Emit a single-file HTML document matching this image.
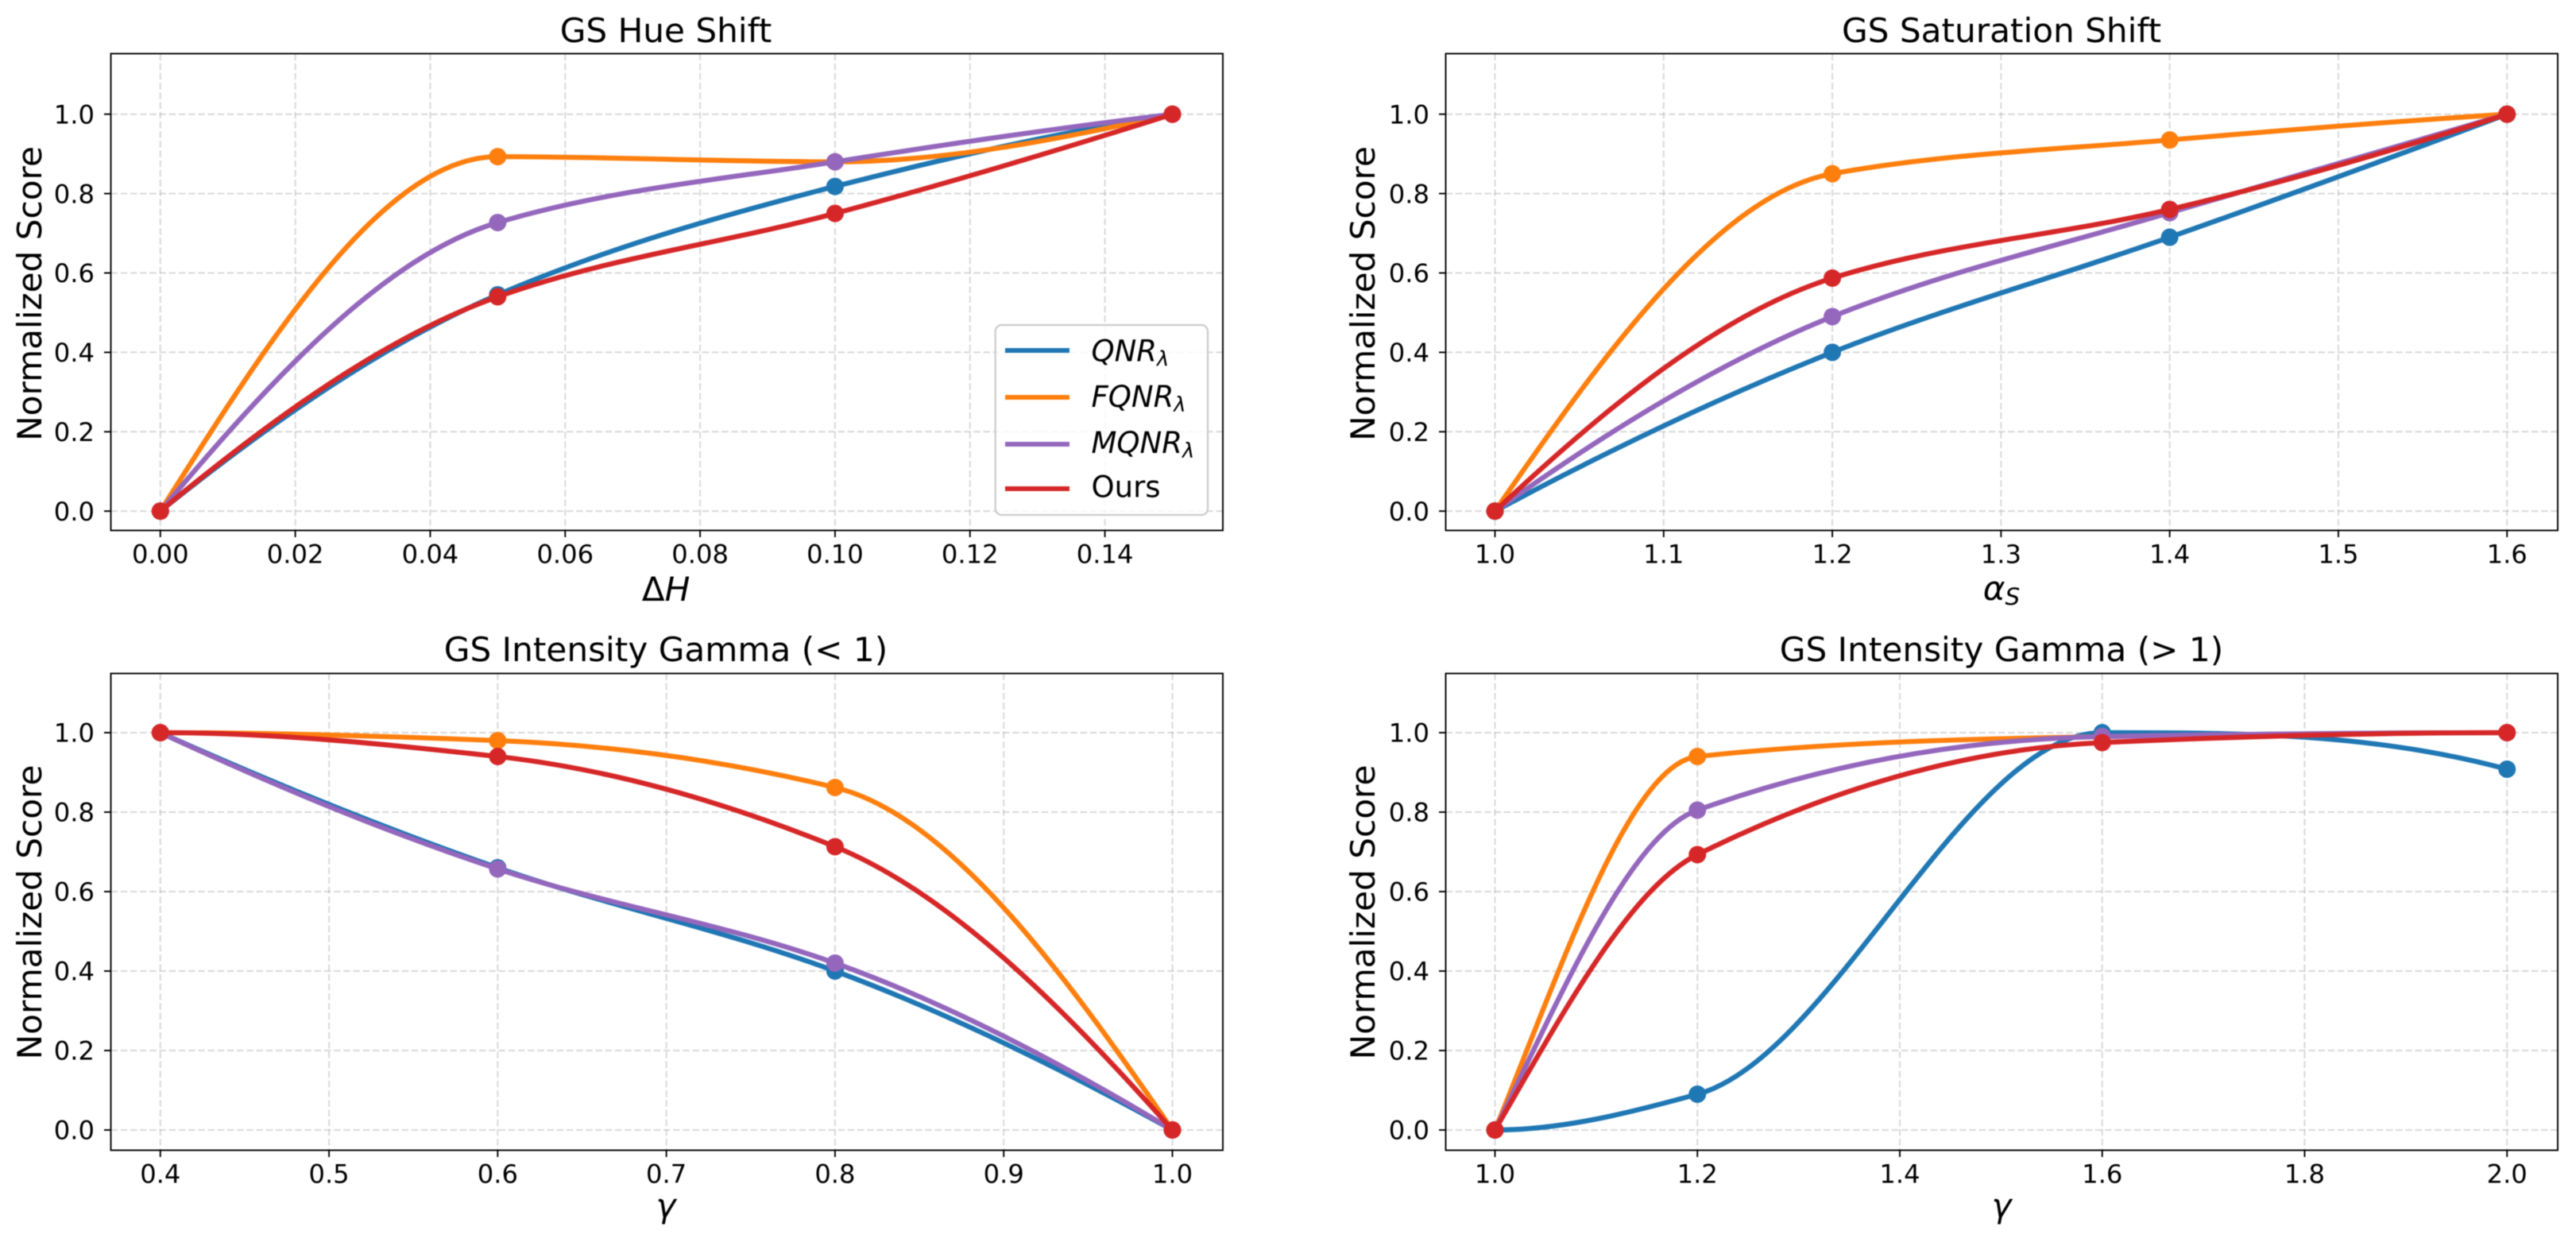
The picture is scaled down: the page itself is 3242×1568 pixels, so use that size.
<!DOCTYPE html>
<html lang="en">
<head>
<meta charset="utf-8">
<title>GS Normalized Score Curves</title>
<style>
html,body{margin:0;padding:0;background:#fff;}
svg{display:block;filter:blur(0.6px);}
text{font-family:"DejaVu Sans","Liberation Sans",sans-serif;fill:#000;}
.tick{font-size:32.2px;}
.big{font-size:42.2px;}
.leg{font-size:37px;}
.it{font-style:italic;}
</style>
</head>
<body>
<svg id="figure" xmlns="http://www.w3.org/2000/svg" width="3242" height="1568" viewBox="0 0 3242 1568">
  <rect x="0" y="0" width="3242" height="1568" fill="#ffffff"/>

  <g id="panel-hue"></g>
  <g id="panel-sat"></g>
  <g id="panel-low"></g>
  <g id="panel-high"></g>

  <text class="big" x="838" y="53" text-anchor="middle">GS Hue Shift</text>
  <text class="big" x="2519" y="53" text-anchor="middle">GS Saturation Shift</text>
  <text class="big" x="838" y="832" text-anchor="middle">GS Intensity Gamma (&lt; 1)</text>
  <text class="big" x="2519" y="832" text-anchor="middle">GS Intensity Gamma (&gt; 1)</text>

  <text class="big" text-anchor="middle" transform="translate(52 369.5) rotate(-90)">Normalized Score</text>
  <text class="big" text-anchor="middle" transform="translate(1730 369.5) rotate(-90)">Normalized Score</text>
  <text class="big" text-anchor="middle" transform="translate(52 1148) rotate(-90)">Normalized Score</text>
  <text class="big" text-anchor="middle" transform="translate(1730 1148) rotate(-90)">Normalized Score</text>

  <text class="big" x="838" y="756" text-anchor="middle">Δ<tspan class="it">H</tspan></text>
  <text class="big" x="2519" y="755" text-anchor="middle"><tspan class="it">α</tspan><tspan class="it" font-size="29.5" dy="6">S</tspan></text>
  <text class="big it" x="838" y="1532" text-anchor="middle">γ</text>
  <text class="big it" x="2519" y="1532" text-anchor="middle">γ</text>

  <g>
    <rect x="1252.7" y="409" width="267.3" height="239" rx="8" ry="8" fill="#ffffff" fill-opacity="0.8" stroke="#cccccc" stroke-width="2.3"/>
    <g>
      <line x1="1265" x2="1346" y1="441" y2="441" stroke="#1f77b4" stroke-width="6"/>
      <text class="leg it" x="1373.5" y="454.5">QNR<tspan font-size="25.9" dy="5.5">λ</tspan></text>
    </g>
    <g>
      <line x1="1265" x2="1346" y1="500" y2="500" stroke="#ff7f0e" stroke-width="6"/>
      <text class="leg it" x="1373.5" y="512">FQNR<tspan font-size="25.9" dy="5.5">λ</tspan></text>
    </g>
    <g>
      <line x1="1265" x2="1346" y1="559" y2="559" stroke="#9467bd" stroke-width="6"/>
      <text class="leg it" x="1373.5" y="570">MQNR<tspan font-size="25.9" dy="5.5">λ</tspan></text>
    </g>
    <g>
      <line x1="1265" x2="1346" y1="615" y2="615" stroke="#d62728" stroke-width="6"/>
      <text class="leg" x="1373.5" y="625.5">Ours</text>
    </g>
  </g>
</svg>

<script>
// Y ticks shared by all panels
const yTickLabels = ['0.0', '0.2', '0.4', '0.6', '0.8', '1.0'];

// Series drawing order and legend colours
const seriesNames = ['qnr', 'fqnr', 'mqnr', 'ours'];
const seriesColors = ['#1f77b4', '#ff7f0e', '#9467bd', '#d62728'];

// GS Hue Shift
const hueX = [0, 0.05, 0.10, 0.15];
const hueQnr = [0, 0.545, 0.818, 1];
const hueFqnr = [0, 0.893, 0.88, 1];
const hueMqnr = [0, 0.727, 0.88, 1];
const hueOurs = [0, 0.54, 0.75, 1];
const hueXTickLabels = ['0.00', '0.02', '0.04', '0.06', '0.08', '0.10', '0.12', '0.14'];

// GS Saturation Shift
const satX = [1.0, 1.2, 1.4, 1.6];
const satQnr = [0, 0.40, 0.69, 1];
const satFqnr = [0, 0.85, 0.935, 1];
const satMqnr = [0, 0.49, 0.752, 1];
const satOurs = [0, 0.587, 0.76, 1];
const satXTickLabels = ['1.0', '1.1', '1.2', '1.3', '1.4', '1.5', '1.6'];

// GS Intensity Gamma (< 1)
const lowX = [0.4, 0.6, 0.8, 1.0];
const lowQnr = [1, 0.66, 0.40, 0];
const lowFqnr = [1, 0.98, 0.862, 0];
const lowMqnr = [1, 0.657, 0.42, 0];
const lowOurs = [1, 0.94, 0.713, 0];
const lowXTickLabels = ['0.4', '0.5', '0.6', '0.7', '0.8', '0.9', '1.0'];

// GS Intensity Gamma (> 1)
const highX = [1.0, 1.2, 1.6, 2.0];
const highQnr = [0, 0.09, 1, 0.908];
const highFqnr = [0, 0.94, 0.99, 1];
const highMqnr = [0, 0.805, 0.99, 1];
const highOurs = [0, 0.693, 0.975, 1];
const highXTickLabels = ['1.0', '1.2', '1.4', '1.6', '1.8', '2.0'];

const SVG_NS = 'http://www.w3.org/2000/svg';

// Shape-preserving cubic (PCHIP) slopes
function edgeSlope(h0, h1, d0, d1) {
  let m = ((2 * h0 + h1) * d0 - h0 * d1) / (h0 + h1);
  if (Math.sign(m) !== Math.sign(d0)) m = 0;
  else if (Math.sign(d0) !== Math.sign(d1) && Math.abs(m) > 3 * Math.abs(d0)) m = 3 * d0;
  return m;
}
function pchipSlopes(xs, ys) {
  const n = xs.length, h = [], d = [], m = new Array(n).fill(0);
  for (let i = 0; i < n - 1; i++) {
    h.push(xs[i + 1] - xs[i]);
    d.push((ys[i + 1] - ys[i]) / h[i]);
  }
  for (let i = 1; i < n - 1; i++) {
    if (d[i - 1] * d[i] > 0) {
      const w1 = 2 * h[i] + h[i - 1], w2 = h[i] + 2 * h[i - 1];
      m[i] = (w1 + w2) / (w1 / d[i - 1] + w2 / d[i]);
    }
  }
  m[0] = edgeSlope(h[0], h[1], d[0], d[1]);
  m[n - 1] = edgeSlope(h[n - 2], h[n - 3], d[n - 2], d[n - 3]);
  return m;
}

function drawPanel(panelId, prefix, left, right, top, bottom, xScale, yScale, xs, seriesList, xTickLabels) {
  const panel = document.getElementById(panelId);

  const plotBg = document.createElementNS(SVG_NS, 'rect');
  
  
  plotBg.setAttribute('x', left);
  plotBg.setAttribute('y', top);
  plotBg.setAttribute('width', right - left);
  plotBg.setAttribute('height', bottom - top);
  plotBg.setAttribute('fill', '#ffffff');
  panel.appendChild(plotBg);

  const gridStyle = function (line) {
    line.setAttribute('stroke', '#b0b0b0');
    line.setAttribute('stroke-opacity', '0.48');
    line.setAttribute('stroke-width', '2');
    line.setAttribute('stroke-dasharray', '8.5 3.7');
  };
  const tickStyle = function (line) {
    line.setAttribute('stroke', '#000000');
    line.setAttribute('stroke-width', '1.9');
  };

  xTickLabels.forEach(function (label) {
    const px = xScale(Number(label));

    const grid = document.createElementNS(SVG_NS, 'line');
    
    
    grid.setAttribute('x1', px);
    grid.setAttribute('x2', px);
    grid.setAttribute('y1', top);
    grid.setAttribute('y2', bottom);
    gridStyle(grid);
    panel.appendChild(grid);

    const tick = document.createElementNS(SVG_NS, 'line');
    
    
    tick.setAttribute('x1', px);
    tick.setAttribute('x2', px);
    tick.setAttribute('y1', bottom);
    tick.setAttribute('y2', bottom + 8.5);
    tickStyle(tick);
    panel.appendChild(tick);

    const text = document.createElementNS(SVG_NS, 'text');
    
    
    text.setAttribute('class', 'tick');
    text.setAttribute('x', px);
    text.setAttribute('y', bottom + 41);
    text.setAttribute('text-anchor', 'middle');
    text.textContent = label;
    panel.appendChild(text);
  });

  yTickLabels.forEach(function (label) {
    const py = yScale(Number(label));

    const grid = document.createElementNS(SVG_NS, 'line');
    
    
    grid.setAttribute('x1', left);
    grid.setAttribute('x2', right);
    grid.setAttribute('y1', py);
    grid.setAttribute('y2', py);
    gridStyle(grid);
    panel.appendChild(grid);

    const tick = document.createElementNS(SVG_NS, 'line');
    
    
    tick.setAttribute('x1', left - 8.5);
    tick.setAttribute('x2', left);
    tick.setAttribute('y1', py);
    tick.setAttribute('y2', py);
    tickStyle(tick);
    panel.appendChild(tick);

    const text = document.createElementNS(SVG_NS, 'text');
    
    
    text.setAttribute('class', 'tick');
    text.setAttribute('x', left - 20.5);
    text.setAttribute('y', py + 11.7);
    text.setAttribute('text-anchor', 'end');
    text.textContent = label;
    panel.appendChild(text);
  });

  seriesList.forEach(function (ys, s) {
    const group = document.createElementNS(SVG_NS, 'g');
    
    

    const m = pchipSlopes(xs, ys);
    let d = 'M' + xScale(xs[0]) + ' ' + yScale(ys[0]);
    for (let i = 0; i < xs.length - 1; i++) {
      const h = xs[i + 1] - xs[i];
      const c1x = xScale(xs[i] + h / 3), c1y = yScale(ys[i] + m[i] * h / 3);
      const c2x = xScale(xs[i + 1] - h / 3), c2y = yScale(ys[i + 1] - m[i + 1] * h / 3);
      d += 'C' + c1x + ' ' + c1y + ' ' + c2x + ' ' + c2y + ' ' + xScale(xs[i + 1]) + ' ' + yScale(ys[i + 1]);
    }
    const path = document.createElementNS(SVG_NS, 'path');
    
    
    path.setAttribute('d', d);
    path.setAttribute('fill', 'none');
    path.setAttribute('stroke', seriesColors[s]);
    path.setAttribute('stroke-width', '6.3');
    path.setAttribute('stroke-linejoin', 'round');
    group.appendChild(path);

    ys.forEach(function (v, i) {
      const dot = document.createElementNS(SVG_NS, 'circle');
      
      
      dot.setAttribute('cx', xScale(xs[i]));
      dot.setAttribute('cy', yScale(v));
      dot.setAttribute('r', '11');
      dot.setAttribute('fill', seriesColors[s]);
      group.appendChild(dot);
    });
    panel.appendChild(group);
  });

  const frame = document.createElementNS(SVG_NS, 'rect');
  
  
  frame.setAttribute('x', left);
  frame.setAttribute('y', top);
  frame.setAttribute('width', right - left);
  frame.setAttribute('height', bottom - top);
  frame.setAttribute('fill', 'none');
  frame.setAttribute('stroke', '#000000');
  frame.setAttribute('stroke-width', '1.9');
  panel.appendChild(frame);
}

function linearScale(d0, d1, r0, r1) {
  return function (v) { return r0 + (v - d0) / (d1 - d0) * (r1 - r0); };
}

const yTopRow = linearScale(0, 1, 643.2, 143.7);
const yBottomRow = linearScale(0, 1, 1422, 922);

drawPanel('panel-hue', 'hue', 139.5, 1539, 67.5, 667.5,
  linearScale(0, 0.15, 201.8, 1475.5), yTopRow,
  hueX, [hueQnr, hueFqnr, hueMqnr, hueOurs], hueXTickLabels);

drawPanel('panel-sat', 'saturation', 1819.5, 3219, 67.5, 667.5,
  linearScale(1, 1.6, 1881.5, 3155.2), yTopRow,
  satX, [satQnr, satFqnr, satMqnr, satOurs], satXTickLabels);

drawPanel('panel-low', 'gamma-low', 139.5, 1539, 847.5, 1447.5,
  linearScale(0.4, 1, 201.8, 1475.5), yBottomRow,
  lowX, [lowQnr, lowFqnr, lowMqnr, lowOurs], lowXTickLabels);

drawPanel('panel-high', 'gamma-high', 1819.5, 3219, 847.5, 1447.5,
  linearScale(1, 2, 1881.5, 3155.2), yBottomRow,
  highX, [highQnr, highFqnr, highMqnr, highOurs], highXTickLabels);
</script>
</body>
</html>
